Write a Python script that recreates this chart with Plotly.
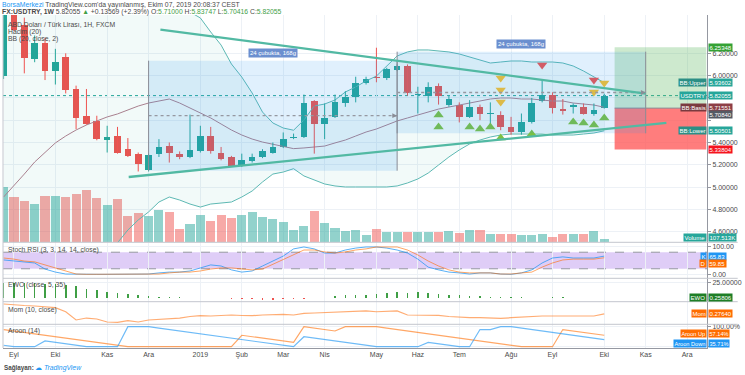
import pandas as pd
import plotly.graph_objects as go

FONT = "Liberation Sans, Arial, sans-serif"
FIRST_WEEK = "2018-08-27"

# ---------------- weekly candles (FX:USDTRY, 1W) ----------------
opens = [6.00, 6.62, 6.45, 6.15, 6.29, 6.04, 6.17, 5.88, 5.64, 5.59,
         5.42, 5.46, 5.34, 5.30, 5.15, 5.30, 5.37, 5.30, 5.27, 5.32,
         5.46, 5.31, 5.27, 5.19, 5.23, 5.27, 5.31, 5.36, 5.44, 5.45,
         5.77, 5.57, 5.63, 5.75, 5.81, 5.93, 5.99, 5.98, 6.05, 6.09,
         5.83, 5.82, 5.91, 5.74, 5.74, 5.63, 5.72, 5.655, 5.65, 5.54,
         5.49, 5.58, 5.77, 5.83, 5.70, 5.72, 5.72, 5.66, 5.71]
highs = [6.85, 6.80, 6.52, 6.36, 6.34, 6.24, 6.20, 5.91, 5.88, 5.64,
         5.55, 5.54, 5.44, 5.31, 5.30, 5.43, 5.40, 5.32, 5.65, 5.55,
         5.54, 5.36, 5.28, 5.30, 5.30, 5.34, 5.40, 5.49, 5.48, 5.83,
         5.78, 5.75, 5.83, 5.86, 5.99, 5.99, 6.25, 6.07, 6.10, 6.10,
         5.90, 5.94, 5.93, 5.82, 5.76, 5.78, 5.74, 5.76, 5.68, 5.63,
         5.66, 5.80, 5.96, 5.85, 5.79, 5.75, 5.75, 5.75, 5.83747]
lows = [5.97, 6.40, 6.02, 6.12, 5.96, 5.92, 5.84, 5.52, 5.56, 5.42,
        5.31, 5.30, 5.27, 5.14, 5.14, 5.27, 5.22, 5.25, 5.26, 5.31,
        5.30, 5.24, 5.18, 5.18, 5.22, 5.26, 5.30, 5.35, 5.43, 5.44,
        5.30, 5.43, 5.62, 5.72, 5.76, 5.92, 5.94, 5.96, 6.04, 5.82,
        5.66, 5.76, 5.74, 5.72, 5.58, 5.62, 5.60, 5.56, 5.51, 5.47,
        5.47, 5.57, 5.76, 5.66, 5.65, 5.66, 5.65, 5.64, 5.70416]
closes = [6.62, 6.41, 6.16, 6.29, 6.04, 6.12, 5.87, 5.62, 5.57, 5.43,
          5.45, 5.31, 5.28, 5.21, 5.29, 5.36, 5.31, 5.27, 5.33, 5.46,
          5.32, 5.25, 5.19, 5.24, 5.27, 5.32, 5.36, 5.43, 5.45, 5.75,
          5.57, 5.62, 5.76, 5.81, 5.93, 5.97, 5.98, 6.06, 6.09, 5.84,
          5.835, 5.90, 5.82, 5.79, 5.63, 5.72, 5.66, 5.665, 5.54, 5.49,
          5.58, 5.75, 5.83, 5.71, 5.68, 5.74, 5.66, 5.69, 5.82055]
volumes_k = [1971, 1613, 1469, 1373, 1674, 1674, 1638, 1731, 1864, 1577,
             1351, 1566, 943, 1050, 957, 1172, 1075, 477, 656, 993,
             753, 993, 871, 978, 1100, 907, 849, 742, 441, 598,
             1122, 692, 502, 405, 448, 262, 477, 358, 358, 358,
             358, 383, 358, 405, 348, 455, 441, 297, 297, 297,
             251, 251, 287, 204, 312, 287, 287, 405, 107.513]

# ---------------- Bollinger Bands (20, close, 2) ----------------
bb_basis = [4.911, 5.010, 5.117, 5.225, 5.315, 5.396, 5.458, 5.512, 5.557, 5.593,
            5.629, 5.656, 5.692, 5.727, 5.754, 5.772, 5.790, 5.754, 5.709, 5.665,
            5.620, 5.566, 5.512, 5.467, 5.431, 5.404, 5.386, 5.362, 5.345, 5.351,
            5.360, 5.368, 5.396, 5.422, 5.458, 5.494, 5.521, 5.557, 5.593, 5.620,
            5.647, 5.673, 5.700, 5.718, 5.736, 5.754, 5.772, 5.790, 5.799, 5.799,
            5.790, 5.790, 5.781, 5.772, 5.772, 5.754, 5.745, 5.736, 5.71551]
bb_upper = [7.40, 7.42, 7.38, 7.30, 7.20, 7.10, 7.02, 6.96, 6.92, 6.88,
            6.85, 6.81, 6.77, 6.749, 6.731, 6.678, 6.669, 6.624, 6.570, 6.517,
            6.391, 6.274, 6.104, 5.987, 5.844, 5.673, 5.575, 5.530, 5.510, 5.602,
            5.727, 5.745, 5.781, 5.853, 5.898, 5.952, 5.996, 6.086, 6.176, 6.212,
            6.230, 6.230, 6.221, 6.212, 6.194, 6.167, 6.140, 6.113, 6.122, 6.131,
            6.131, 6.122, 6.122, 6.122, 6.113, 6.086, 6.041, 5.987, 5.93602]
bb_lower = [2.42, 2.60, 2.85, 3.15, 3.43, 3.69, 3.90, 4.06, 4.19, 4.31,
            4.41, 4.50, 4.615, 4.705, 4.777, 4.866, 4.911, 4.884, 4.848, 4.821,
            4.848, 4.857, 4.866, 4.911, 4.965, 5.046, 5.117, 5.135, 5.165, 5.100,
            5.064, 5.028, 5.010, 5.001, 5.001, 5.001, 5.001, 5.001, 5.010, 5.037,
            5.073, 5.126, 5.198, 5.270, 5.333, 5.387, 5.422, 5.449, 5.467, 5.476,
            5.476, 5.476, 5.476, 5.467, 5.467, 5.467, 5.476, 5.485, 5.50501]

# ---------------- lower indicators ----------------
stoch_k = [52, 48, 45, 41, 19, 8, 1, 0, 0, 0,
           0, 0, 0, 0, 1, 5, 8, 8, 12, 23,
           34, 30, 16, 8, 12, 30, 48, 66, 92, 99,
           92, 77, 77, 88, 95, 99, 99, 95, 88, 77,
           55, 26, 16, 8, 5, 1, 5, 5, 1, 0,
           5, 16, 41, 59, 63, 59, 59, 59, 65.83]
stoch_d = [59, 55, 48, 45, 34, 23, 12, 1, 0, 0,
           0, 0, 0, 0, 1, 1, 5, 8, 8, 12,
           19, 23, 23, 19, 16, 19, 37, 52, 70, 88,
           88, 81, 77, 81, 88, 92, 99, 99, 99, 88,
           70, 48, 30, 16, 8, 5, 5, 5, 1, 1,
           5, 8, 26, 41, 52, 55, 55, 55, 59.85]
ewo = [24, 25, 25, 24, 23, 22, 21.5, 18.8, 15, 13,
       9.4, 7.7, 6, 3.9, 2.8, 1.7, 1.1, 0.6, 0.3, 0.1,
       -0.6, -1.0, -1.6, -2.2, -2.8, -3.0, -3.0, -2.6, -2.1, -1.5,
       -1.0, -0.4, 2.2, 3.9, 3.9, 5.0, 6.6, 7.7, 8.8, 7.7,
       8.8, 7.7, 6.0, 5.0, 3.9, 2.8, 2.2, 1.7, 1.1, 0.6,
       0.4, 0.3, 0.3, 0.4, 0.4, 0.3, 0.3, 0.3, 0.25806]
mom = [1.86, 1.70, 1.62, 1.54, 1.43, 1.27, 0.63, -0.68, -0.37, -0.52,
       -1.0, -1.05, -0.79, -1.0, -0.68, -0.60, -0.52, -0.37, -0.13, 0.0,
       -0.05, 0.03, 0.11, 0.03, 0.0, 0.11, 0.16, 0.22, 0.11, 0.38,
       0.43, 0.48, 0.54, 0.59, 0.63, 0.75, 0.63, 0.70, 0.75, 0.11,
       0.11, 0.11, 0.06, -0.13, -0.25, -0.29, -0.32, -0.37, -0.41, -0.32,
       -0.21, -0.13, -0.05, -0.05, -0.05, -0.05, -0.05, -0.05, 0.2764]
aroon_up = [85.7, 78.6, 71.4, 64.3, 57.1, 50, 42.9, 35.7, 28.6, 21.4,
            14.3, 7.1, 0, 0, 0, 0, 0, 0, 0, 0,
            0, 0, 0, 57.1, 50, 42.9, 35.7, 28.6, 21.4, 100,
            92.9, 85.7, 78.6, 100, 100, 100, 100, 92.9, 85.7, 78.6,
            71.4, 64.3, 57.1, 50, 42.9, 35.7, 28.6, 21.4, 14.3, 7.1,
            0, 0, 0, 0, 85.7, 78.6, 71.4, 64.3, 57.14]
aroon_down = [7.1, 0, 0, 0, 28.6, 21.4, 14.3, 7.1, 0, 0,
              0, 0, 100, 100, 100, 92.9, 85.7, 78.6, 71.4, 64.3,
              57.1, 50, 42.9, 35.7, 28.6, 21.4, 14.3, 7.1, 0, 50,
              42.9, 35.7, 28.6, 21.4, 14.3, 7.1, 0, 0, 0, 0,
              0, 21.4, 14.3, 7.1, 0, 0, 85.7, 85.7, 100, 100,
              92.9, 85.7, 78.6, 71.4, 64.3, 57.1, 50, 42.9, 35.71]

# ---------------- signal markers (bar index, price) ----------------
sig_yellow_bars = [48, 48, 48, 57, 58]
sig_yellow_prices = [5.978, 5.871, 5.763, 5.853, 5.934]
sig_red_bars = [52, 57]
sig_red_prices = [6.095, 5.961]
sig_green_bars = [42, 42, 45, 46, 47, 48, 51, 55, 56, 57, 58]
sig_green_prices = [5.647, 5.539, 5.539, 5.521, 5.539, 5.440, 5.476, 5.584, 5.575, 5.557, 5.620]

# ---------------- time axis labels ----------------
tick_dates = ["2018-09-03", "2018-10-01", "2018-11-05", "2018-12-03", "2019-01-07",
              "2019-02-04", "2019-03-04", "2019-04-01", "2019-05-06", "2019-06-03",
              "2019-07-01", "2019-08-05", "2019-09-02", "2019-10-07", "2019-11-04",
              "2019-12-02"]
tick_labels = ["Eyl", "Eki", "Kas", "Ara", "2019", "Şub", "Mar", "Nis", "May", "Haz",
               "Tem", "Ağu", "Eyl", "Eki", "Kas", "Ara"]
price_ticks = [4.6, 4.8, 5.0, 5.2, 5.4, 5.6, 5.8, 6.0, 6.2]
price_tick_labels = ["4.60000", "4.80000", "5.00000", "5.20000", "5.40000", "", "", "6.00000", "6.20000"]

# ---------------- drawings (bar index, price) ----------------
trend_down = (15.14, 6.413, 62.0, 5.839)
trend_up = (12.08, 5.0905, 64.0, 5.575)
range_a = (14, 38, 5.147, 6.1336)
range_b = (38, 62, 5.4825, 6.2144)
range_label = "24 çubukta, 168g"
pos_x = (59.0, 67.85)
pos_entry, pos_target, pos_stop = 5.7084, 6.25348, 5.33804

# ================= construction =================
W, H = 745, 375
ML, MR, MT, MB = 3, 31, 15, 27
PW, PH = W - ML - MR, H - MT - MB
def py(y):
    return (H - MB - y) / PH
def px(x):
    return (x - ML) / PW

base = pd.Timestamp(FIRST_WEEK)
def wk(i):
    return (base + pd.Timedelta(days=7 * i)).strftime("%Y-%m-%d %H:%M:%S")
n = len(closes)
dates = [wk(i) for i in range(n)]
WEEK_MS = 7 * 24 * 3600 * 1000
TEAL, RED = "#26a69a", "#ef5350"
up = [c >= o for o, c in zip(opens, closes)]
GRID = "#edf1f6"
TXT = "#4a4a4a"

fig = go.Figure()

# volume (base axis y)
fig.add_trace(go.Bar(x=dates, y=[v * 1000 for v in volumes_k], width=0.88 * WEEK_MS,
                     marker=dict(color=["rgba(38,166,154,0.5)" if u else "rgba(239,83,80,0.5)" for u in up],
                                 line=dict(width=0)), yaxis="y", hoverinfo="skip"))

# Bollinger bands on price axis y2
fig.add_trace(go.Scatter(x=dates, y=bb_upper, mode="lines", line=dict(color="#5db8b3", width=1), yaxis="y2"))
fig.add_trace(go.Scatter(x=dates, y=bb_lower, mode="lines", line=dict(color="#5db8b3", width=1), yaxis="y2",
                         fill="tonexty", fillcolor="rgba(0,150,136,0.05)"))
fig.add_trace(go.Scatter(x=dates, y=bb_basis, mode="lines", line=dict(color="#a9808f", width=1), yaxis="y2"))

# candles
for want, col in ((True, TEAL), (False, RED)):
    wx, wy = [], []
    for i in range(n):
        if up[i] == want:
            wx += [dates[i], dates[i], None]
            wy += [lows[i], highs[i], None]
    fig.add_trace(go.Scatter(x=wx, y=wy, mode="lines", line=dict(color=col, width=1), yaxis="y2"))
fig.add_trace(go.Bar(x=dates, y=[max(abs(c - o), 0.005) for o, c in zip(opens, closes)],
                     base=[min(o, c) for o, c in zip(opens, closes)], width=0.64 * WEEK_MS,
                     marker=dict(color=[TEAL if u else RED for u in up], line=dict(width=0)), yaxis="y2"))

# signal triangles
fig.add_trace(go.Scatter(x=[wk(i) for i in sig_yellow_bars], y=sig_yellow_prices, mode="markers", yaxis="y2",
                         marker=dict(symbol="triangle-down", size=9, color="#fbc02d")))
fig.add_trace(go.Scatter(x=[wk(i) for i in sig_red_bars], y=sig_red_prices, mode="markers", yaxis="y2",
                         marker=dict(symbol="triangle-down", size=9, color="#ef5350")))
fig.add_trace(go.Scatter(x=[wk(i) for i in sig_green_bars], y=sig_green_prices, mode="markers", yaxis="y2",
                         marker=dict(symbol="triangle-up", size=9, color="#7cc142")))

# Stoch RSI
fig.add_trace(go.Scatter(x=dates, y=stoch_k, mode="lines", line=dict(color="rgba(33,150,243,0.75)", width=1), yaxis="y3"))
fig.add_trace(go.Scatter(x=dates, y=stoch_d, mode="lines", line=dict(color="rgba(255,109,0,0.6)", width=1), yaxis="y3"))
# EWO
fig.add_trace(go.Bar(x=dates, y=ewo, width=0.15 * WEEK_MS, yaxis="y4",
                     marker=dict(color=["#3f9f45" if v >= 0 else "#ef5350" for v in ewo], line=dict(width=0))))
# Momentum
fig.add_trace(go.Scatter(x=dates, y=mom, mode="lines", line=dict(color="rgba(255,128,40,0.65)", width=1.2), yaxis="y5"))
# Aroon
fig.add_trace(go.Scatter(x=dates, y=aroon_up, mode="lines", line=dict(color="rgba(255,109,0,0.6)", width=1.2), yaxis="y6"))
fig.add_trace(go.Scatter(x=dates, y=aroon_down, mode="lines", line=dict(color="rgba(33,150,243,0.65)", width=1.2), yaxis="y6"))

# ---------- panes ----------
d_main = [py(242.3), 1]
d_st = [py(278.3), py(242.3)]
d_ewo = [py(301.7), py(278.3)]
d_mom = [py(324.3), py(301.7)]
d_ar = [0, py(324.3)]
P_HI = 6.2 + (53.3 - 15) * 0.008969
P_LO = 6.2 - (242.3 - 53.3) * 0.008969
VOL_TOP = (242.3 - 15) * 35.84 * 1000

tickfont = dict(family=FONT, size=7, color=TXT)
common_y = dict(anchor="x", side="right", showline=True, linecolor="#9598a1", linewidth=1,
                zeroline=False, tickfont=tickfont, ticks="outside", ticklen=3, tickcolor="#9598a1",
                gridcolor=GRID, fixedrange=True)

x0 = (base - pd.Timedelta(days=0.4)).strftime("%Y-%m-%d %H:%M:%S")
x1 = (base + pd.Timedelta(days=475.44)).strftime("%Y-%m-%d %H:%M:%S")

shapes = []
# stoch band
shapes.append(dict(type="rect", xref="paper", yref="y3", x0=0, x1=1, y0=20, y1=80,
                   fillcolor="rgba(150,90,230,0.3)", line=dict(width=0), layer="below"))
for lv in (20, 80):
    shapes.append(dict(type="line", xref="paper", yref="y3", x0=0, x1=1, y0=lv, y1=lv,
                       line=dict(color="#9598a1", width=1, dash="dash"), layer="between"))
# last price line
shapes.append(dict(type="line", xref="paper", yref="y2", x0=0, x1=1, y0=closes[-1], y1=closes[-1],
                   line=dict(color=TEAL, width=1, dash="dot"), layer="between"))
# long position tool
shapes.append(dict(type="rect", xref="x", yref="y2", x0=wk(pos_x[0]), x1=wk(pos_x[1]), y0=pos_entry, y1=pos_target,
                   fillcolor="rgba(76,175,80,0.28)", line=dict(width=0), layer="above"))
shapes.append(dict(type="rect", xref="x", yref="y2", x0=wk(pos_x[0]), x1=wk(pos_x[1]), y0=pos_stop, y1=pos_entry,
                   fillcolor="rgba(255,82,82,0.75)", line=dict(width=0), layer="above"))
shapes.append(dict(type="line", xref="x", yref="y2", x0=wk(pos_x[0]), x1=wk(pos_x[1]), y0=pos_entry, y1=pos_entry,
                   line=dict(color="#8a8d96", width=1), layer="above"))
# date ranges
for (i0, i1, lo, hi) in (range_a, range_b):
    shapes.append(dict(type="rect", xref="x", yref="y2", x0=wk(i0), x1=wk(i1), y0=lo, y1=hi,
                       fillcolor="rgba(33,150,243,0.14)", line=dict(width=0), layer="above"))
    for ii in (i0, i1):
        shapes.append(dict(type="line", xref="x", yref="y2", x0=wk(ii), x1=wk(ii), y0=lo, y1=hi,
                           line=dict(color="#8a8d96", width=1), layer="above"))
    mid = (lo + hi) / 2
    shapes.append(dict(type="line", xref="x", yref="y2", x0=wk(i0), x1=wk(i1), y0=mid, y1=mid,
                       line=dict(color="#9598a1", width=1.3, dash="dot"), layer="above"))
# trend lines
for (a0, p0, a1, p1) in (trend_down, trend_up):
    shapes.append(dict(type="line", xref="x", yref="y2", x0=wk(a0), x1=wk(a1), y0=p0, y1=p1,
                       line=dict(color="#52b9a3", width=2.3), layer="above"))
# pane separators and borders
for yy in (242.3, 278.3, 301.7, 324.3):
    shapes.append(dict(type="line", xref="paper", yref="paper", x0=0, x1=1 + 31 / PW, y0=py(yy), y1=py(yy),
                       line=dict(color="#c3c6ce", width=1), layer="above"))
shapes.append(dict(type="line", xref="paper", yref="paper", x0=0, x1=0, y0=0, y1=1,
                   line=dict(color="#c3c6ce", width=1), layer="above"))

ann = []
def text(t, x, y, size=7, color=TXT, xanchor="left"):
    ann.append(dict(text=t, xref="paper", yref="paper", x=px(x), y=py(y), xanchor=xanchor, yanchor="middle",
                    showarrow=False, font=dict(family=FONT, size=size, color=color)))

GREEN = "#43a047"
text("<span style='color:#2196f3'>BorsaMerkezi</span> TradingView.com'da yayınlanmış, Ekim 07, 2019 20:08:37 CEST", 0, 4.5, 6.8)
text("<b>FX:USDTRY, 1W</b> 5.82055 <span style='color:%s'>▲</span> +0.13569 (+2.39%%) O:<span style='color:%s'>5.71000</span> "
     "H:<span style='color:%s'>5.83747</span> L:<span style='color:%s'>5.70416</span> C:<span style='color:%s'>5.82055</span>"
     % (GREEN, GREEN, GREEN, GREEN, GREEN), 0, 12.3, 6.8)
text("ABD Doları / Türk Lirası, 1H, FXCM", 6, 25, 6.8)
text("Hacim (20)", 6, 32, 6.8)
text("BB (20, close, 2)", 6, 39, 6.8)
text("Stoch RSI (3, 3, 14, 14, close)", 6, 250, 6.8)
text("EWO (close, 5, 35)", 6, 285, 6.8)
text("Mom (10, close)", 6, 309.5, 6.8)
text("Aroon (14)", 6, 331, 6.8)
text("<b>Sağlayan:</b>", 2, 368.5, 6.3)
text("<span style='color:#2196f3'>☁</span> <span style='color:#2196f3'><i>TradingView</i></span>", 33, 368.5, 6.8)

def tag(label, value, color, y, yref, yshift=0, namecolor=None, size=6):
    if label:
        ann.append(dict(text=label, xref="paper", yref=yref, x=px(714), y=y, xanchor="right", yanchor="middle",
                        showarrow=False, bgcolor=namecolor or color, borderpad=0.5, yshift=yshift,
                        font=dict(family=FONT, size=size, color="white")))
    ann.append(dict(text=value, xref="paper", yref=yref, x=px(715), y=y, xanchor="left", yanchor="middle",
                    showarrow=False, bgcolor=color, borderpad=0.5, yshift=yshift,
                    font=dict(family=FONT, size=size, color="white")))

tag(None, "6.25348", "#34a134", pos_target, "y2")
tag("BB:Upper", "5.93602", "#26a69a", bb_upper[-1], "y2", namecolor="#2c8f85")
tag("USDTRY", "5.82055", "#26a69a", closes[-1], "y2")
tag("BB:Basis", "5.71551", "#8d3f46", bb_basis[-1], "y2", namecolor="#7a3a3f")
tag(None, "5.70840", "#555a63", pos_entry, "y2", yshift=-6)
tag("BB:Lower", "5.50501", "#26a69a", bb_lower[-1], "y2", namecolor="#2c8f85")
tag(None, "5.33804", "#f5141e", pos_stop, "y2")
tag("Volume", "107.513K", "#26a69a", volumes_k[-1] * 1000, "y", yshift=2)
tag("K", "65.83", "#2196f3", stoch_k[-1], "y3")
tag("D", "59.85", "#ff6d00", stoch_d[-1], "y3", yshift=-5.5)
tag("EWO", "0.25806", "#1e7e26", ewo[-1], "y4")
tag("Mom", "0.27640", "#ff6d00", mom[-1], "y5")
tag("Aroon Up", "57.14%", "#ff6d00", aroon_up[-1], "y6", yshift=2.2, size=5.6)
tag("Aroon Down", "35.71%", "#2196f3", aroon_down[-1], "y6", yshift=-3.6, size=5.6)

# date range labels and arrows
for (i0, i1, lo, hi) in (range_a, range_b):
    ann.append(dict(text=range_label, xref="x", yref="y2", x=wk((i0 + i1) / 2), y=hi, xanchor="center",
                    yanchor="bottom", yshift=3, showarrow=False, bgcolor="#6b8fcf", borderpad=1,
                    font=dict(family=FONT, size=6, color="white")))
    ann.append(dict(text="", xref="x", yref="y2", x=wk(i1), y=(lo + hi) / 2, ax=-6, ay=0,
                    showarrow=True, arrowhead=2, arrowsize=0.8, arrowwidth=1.2, arrowcolor="#8a8d96"))

fig.update_layout(
    width=W, height=H, margin=dict(l=ML, r=MR, t=MT, b=MB),
    paper_bgcolor="white", plot_bgcolor="white", showlegend=False, bargap=0,
    font=dict(family=FONT, size=7, color=TXT),
    xaxis=dict(type="date", anchor="y6", range=[x0, x1], tickvals=tick_dates, ticktext=tick_labels,
               showgrid=True, gridcolor=GRID, zeroline=False, showline=True, linecolor="#9598a1",
               ticks="", tickfont=tickfont, fixedrange=True),
    yaxis=dict(domain=d_main, range=[0, VOL_TOP], visible=False, fixedrange=True),
    yaxis2=dict(overlaying="y", range=[P_LO, P_HI], tickvals=price_ticks, ticktext=price_tick_labels,
                showgrid=True, **common_y),
    yaxis3=dict(domain=d_st, range=[-14.5, 115.9], tickvals=[0, 100], ticktext=["0.00", "100.00"],
                showgrid=True, **common_y),
    yaxis4=dict(domain=d_ewo, range=[-6.6, 32.3], tickvals=[25], ticktext=["25.00000"],
                showgrid=True, **common_y),
    yaxis5=dict(domain=d_mom, range=[-1.365, 2.222], tickvals=[], showgrid=False, **common_y),
    yaxis6=dict(domain=d_ar, range=[-6.5, 112], tickvals=[0, 100], ticktext=["", "100.00%"],
                showgrid=True, **common_y),
    shapes=shapes, annotations=ann,
)

fig.write_html("out.html", config={"displayModeBar": False, "staticPlot": True},
               post_script="document.body.style.margin='0';document.body.style.overflow='hidden';")
